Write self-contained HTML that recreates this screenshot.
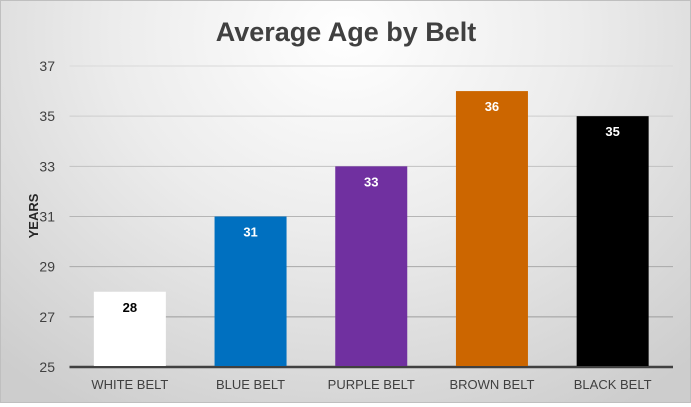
<!DOCTYPE html>
<html><head><meta charset="utf-8"><style>
html,body{margin:0;padding:0}
body{width:691px;height:403px;overflow:hidden}
#chart{position:relative;width:689px;height:401px;border:1px solid #bfbfbf;background:radial-gradient(ellipse 75% 110% at 50% 8%,#ffffff 0%,#ececec 45%,#cdcdcd 100%)}
text{font-family:"Liberation Sans",sans-serif}
</style></head><body>
<div id="chart">
<svg id="chartSvg" width="689" height="401">
<text x="345" y="40" text-anchor="middle" font-size="27" font-weight="bold" fill="#404040">Average Age by Belt</text>
<text transform="translate(37,215) rotate(-90)" text-anchor="middle" font-size="13" font-weight="bold" fill="#262626">YEARS</text>
<g id="grid"></g><g id="bars"></g><g id="labels"></g>
</svg></div>
<script>
const categories=["WHITE BELT","BLUE BELT","PURPLE BELT","BROWN BELT","BLACK BELT"];
const values=[28,31,33,36,35];
const colors=["#ffffff","#0070c0","#7030a0","#cc6600","#000000"];
const yTicks=[25,27,29,31,33,35,37];
const NS="http://www.w3.org/2000/svg";
const plotLeft=68.5,plotRight=672,plotTop=65,plotBottom=366,yMin=25,yMax=37;
const yScale=v=>plotBottom-(v-yMin)/(yMax-yMin)*(plotBottom-plotTop);
const band=(plotRight-plotLeft)/categories.length;
const xScale=i=>plotLeft+band*i+band/2;
function mk(t,a,p){const e=document.createElementNS(NS,t);for(const k in a)e.setAttribute(k,a[k]);document.getElementById(p).appendChild(e);return e;}
yTicks.forEach(t=>{
 const c=217-(37-t)*6;
 const l=mk('line',{x1:plotLeft,x2:plotRight,y1:yScale(t),y2:yScale(t),stroke:t===25?'#404040':`rgb(${c},${c},${c})`,'stroke-width':t===25?2.5:1},'grid');
 
 
 const tx=mk('text',{x:54,y:yScale(t)+5,'text-anchor':'end','font-size':14,fill:'#404040'},'labels');
 tx.textContent=t;
 
 
});
const bw=72;
categories.forEach((c,i)=>{
 const r=mk('rect',{x:xScale(i)-bw/2,y:yScale(values[i]),width:bw,height:yScale(yMin)-yScale(values[i])-1,fill:colors[i]},'bars');
 
 
 const v=mk('text',{x:xScale(i),y:yScale(values[i])+20,'text-anchor':'middle','font-size':13,'font-weight':'bold',fill:i===0?'#000':'#fff'},'labels');
 v.textContent=values[i];
 
 
 const cl=mk('text',{x:xScale(i),y:388,'text-anchor':'middle','font-size':13,fill:'#404040'},'labels');
 cl.textContent=c;
 
 
});
</script>
</body></html>
